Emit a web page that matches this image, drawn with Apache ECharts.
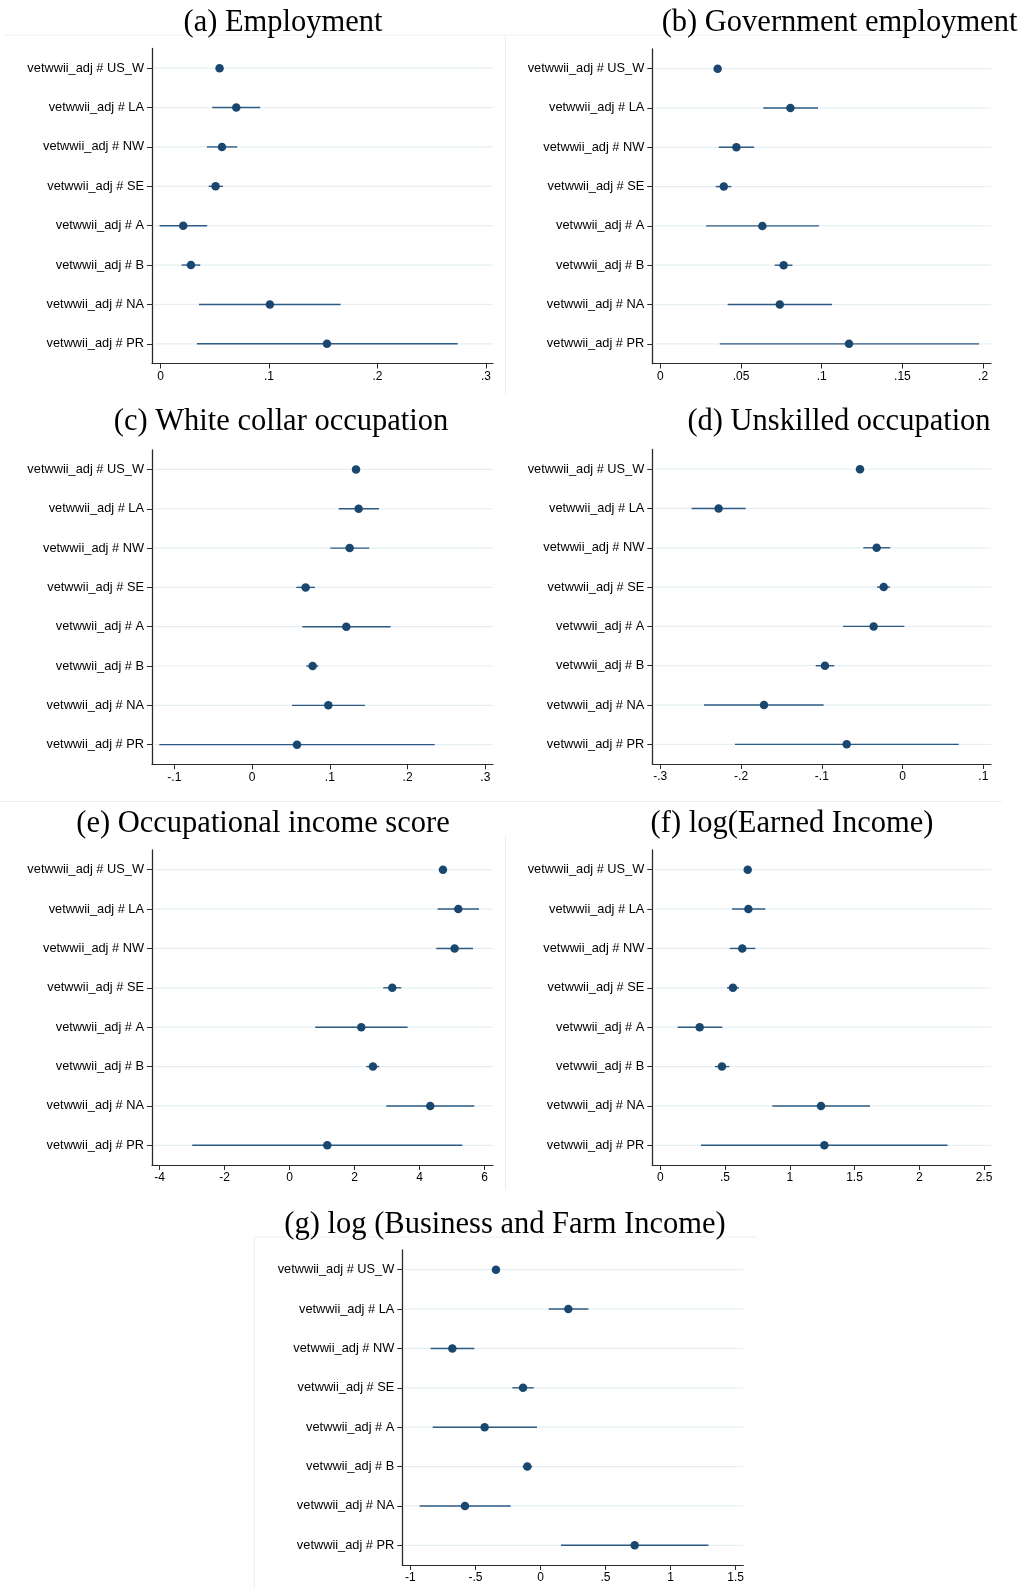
<!DOCTYPE html>
<html>
<head>
<meta charset="utf-8">
<title>vetwwii_adj coefficients by region</title>
<script src="https://cdn.jsdelivr.net/npm/echarts@6/dist/echarts.min.js"></script>
<style>
html, body { margin: 0; padding: 0; background: #fff; }
#main { width: 1026px; height: 1589px; }
</style>
</head>
<body>
<div id="main"></div>
<script>
// categories (top to bottom)
var categories = ['vetwwii_adj # US_W', 'vetwwii_adj # LA', 'vetwwii_adj # NW', 'vetwwii_adj # SE',
                  'vetwwii_adj # A', 'vetwwii_adj # B', 'vetwwii_adj # NA', 'vetwwii_adj # PR'];

// (a) Employment
var empCoef = [0.0544, 0.0698, 0.0566, 0.0507, 0.0209, 0.0280, 0.1008, 0.1534];
var empLo   = [0.0526, 0.0476, 0.0427, 0.0443, -0.0009, 0.0194, 0.0354, 0.0335];
var empHi   = [0.0562, 0.0919, 0.0707, 0.0575, 0.0430, 0.0366, 0.1660, 0.2739];
var empTicks = [0, 0.1, 0.2, 0.3];

// (b) Government employment
var govCoef = [0.0355, 0.0806, 0.0471, 0.0393, 0.0632, 0.0764, 0.0740, 0.1169];
var govLo   = [0.0343, 0.0638, 0.0362, 0.0343, 0.0283, 0.0709, 0.0417, 0.0368];
var govHi   = [0.0367, 0.0977, 0.0581, 0.0440, 0.0983, 0.0818, 0.1064, 0.1975];
var govTicks = [0, 0.05, 0.1, 0.15, 0.2];

// (c) White collar occupation
var wcCoef = [0.1337, 0.1371, 0.1255, 0.0689, 0.1212, 0.0779, 0.0981, 0.0578];
var wcLo   = [0.1317, 0.1114, 0.1007, 0.0569, 0.0646, 0.0698, 0.0514, -0.1193];
var wcHi   = [0.1357, 0.1632, 0.1508, 0.0809, 0.1782, 0.0852, 0.1452, 0.2349];
var wcTicks = [-0.1, 0, 0.1, 0.2, 0.3];

// (d) Unskilled occupation
var unsCoef = [-0.0527, -0.2278, -0.0321, -0.0234, -0.0358, -0.0961, -0.1716, -0.0692];
var unsLo   = [-0.0547, -0.2612, -0.0486, -0.0317, -0.0738, -0.1076, -0.2459, -0.2075];
var unsHi   = [-0.0507, -0.1943, -0.0152, -0.0156, 0.0022, -0.0845, -0.0977, 0.0695];
var unsTicks = [-0.3, -0.2, -0.1, 0, 0.1];

// (e) Occupational income score
var oisCoef = [4.718, 5.190, 5.077, 3.159, 2.205, 2.564, 4.328, 1.159];
var oisLo   = [4.640, 4.554, 4.513, 2.882, 0.790, 2.359, 2.974, -2.995];
var oisHi   = [4.800, 5.826, 5.641, 3.436, 3.631, 2.759, 5.682, 5.313];
var oisTicks = [-4, -2, 0, 2, 4, 6];

// (f) log(Earned Income)
var earnCoef = [0.675, 0.680, 0.633, 0.561, 0.304, 0.476, 1.241, 1.267];
var earnLo   = [0.662, 0.554, 0.536, 0.515, 0.134, 0.422, 0.865, 0.314];
var earnHi   = [0.688, 0.811, 0.734, 0.608, 0.479, 0.533, 1.619, 2.219];
var earnTicks = [0, 0.5, 1, 1.5, 2, 2.5];

// (g) log (Business and Farm Income)
var bizCoef = [-0.342, 0.214, -0.677, -0.134, -0.429, -0.101, -0.580, 0.724];
var bizLo   = [-0.356, 0.063, -0.844, -0.216, -0.828, -0.137, -0.928, 0.158];
var bizHi   = [-0.328, 0.368, -0.508, -0.052, -0.027, -0.063, -0.229, 1.290];
var bizTicks = [-1, -0.5, 0, 0.5, 1, 1.5];

var panels = [
  {title: '(a) Employment', coef: empCoef, lo: empLo, hi: empHi, ticks: empTicks, min: -0.0079, max: 0.3065},
  {title: '(b) Government employment', coef: govCoef, lo: govLo, hi: govHi, ticks: govTicks, min: -0.005, max: 0.2049},
  {title: '(c) White collar occupation', coef: wcCoef, lo: wcLo, hi: wcHi, ticks: wcTicks, min: -0.1287, max: 0.3099},
  {title: '(d) Unskilled occupation', coef: unsCoef, lo: unsLo, hi: unsHi, ticks: unsTicks, min: -0.3099, max: 0.1095},
  {title: '(e) Occupational income score', coef: oisCoef, lo: oisLo, hi: oisHi, ticks: oisTicks, min: -4.234, max: 6.258},
  {title: '(f) log(Earned Income)', coef: earnCoef, lo: earnLo, hi: earnHi, ticks: earnTicks, min: -0.0618, max: 2.554},
  {title: '(g) log (Business and Farm Income)', coef: bizCoef, lo: bizLo, hi: bizHi, ticks: bizTicks, min: -1.0615, max: 1.5584}
];

// plot boxes and title anchors (layout only)
var boxes = [
  {left: 152, top: 48.5, width: 341, height: 315, tx: 283, ty: 23},
  {left: 652.3, top: 49, width: 338.7, height: 314.5, tx: 839.5, ty: 23},
  {left: 152, top: 449.8, width: 341, height: 314.5, tx: 281, ty: 422},
  {left: 652.3, top: 449.5, width: 338.7, height: 314.5, tx: 839, ty: 422},
  {left: 152, top: 850, width: 341, height: 315, tx: 263, ty: 824},
  {left: 652.3, top: 850, width: 338.7, height: 315, tx: 792, ty: 824},
  {left: 402.3, top: 1250, width: 341, height: 315, tx: 505, ty: 1224.5}
];

var dotColor = '#1a476f';
var ciColor = '#2d5b85';
var gridColor = '#e6eff2';
var axisColor = '#2a2a2a';
var sansFont = '"Liberation Sans", Arial, Helvetica, sans-serif';

function fmtTick(v) {
  var s = String(+(+v).toFixed(4));
  return s.replace(/^(-?)0\./, '$1.');
}

function ciRender(params, api) {
  var idx = api.value(2);
  var p1 = api.coord([api.value(0), idx]);
  var p2 = api.coord([api.value(1), idx]);
  var cs = params.coordSys;
  return {
    type: 'group',
    children: [
      {type: 'line', shape: {x1: cs.x + 1, y1: p1[1], x2: cs.x + cs.width, y2: p1[1]},
       style: {stroke: gridColor, lineWidth: 1.2}},
      {type: 'line', shape: {x1: p1[0], y1: p1[1], x2: p2[0], y2: p2[1]},
       style: {stroke: ciColor, lineWidth: 1.4}}
    ]
  };
}

var grids = [], xAxes = [], yAxes = [], series = [], graphics = [];

panels.forEach(function (p, i) {
  var b = boxes[i];
  grids.push({left: b.left, top: b.top, width: b.width, height: b.height, containLabel: false});
  xAxes.push({
    type: 'value', gridIndex: i, min: p.min, max: p.max,
    axisLine: {show: true, onZero: false, lineStyle: {color: axisColor, width: 1.2}},
    axisTick: {show: true, length: 5, customValues: p.ticks, lineStyle: {color: axisColor}},
    axisLabel: {customValues: p.ticks, formatter: fmtTick, margin: 7,
                fontFamily: sansFont, fontSize: 12, color: '#000'},
    splitLine: {show: false}
  });
  yAxes.push({
    type: 'category', gridIndex: i, data: categories, inverse: true,
    axisLine: {show: true, onZero: false, lineStyle: {color: axisColor, width: 1.3}},
    axisTick: {show: true, alignWithLabel: true, length: 5, lineStyle: {color: axisColor}},
    axisLabel: {margin: 8, fontFamily: sansFont, fontSize: 12.8, color: '#000'},
    splitLine: {show: false}
  });
  series.push({
    type: 'custom', xAxisIndex: i, yAxisIndex: i,
    renderItem: ciRender,
    encode: {x: [0, 1], y: 2},
    data: p.lo.map(function (v, k) { return [v, p.hi[k], k]; }),
    z: 2
  });
  series.push({
    type: 'scatter', xAxisIndex: i, yAxisIndex: i,
    symbol: 'circle', symbolSize: 8.5,
    itemStyle: {color: dotColor, opacity: 1},
    data: p.coef.map(function (v, k) { return [v, k]; }),
    z: 3
  });
  graphics.push({
    type: 'text', x: b.tx, y: b.ty,
    style: {text: p.title, font: '30.5px "Liberation Serif", "Times New Roman", serif', fill: '#000',
            align: 'center', verticalAlign: 'middle', textAlign: 'center', textVerticalAlign: 'middle'}
  });
});

// faint graph-region borders
var borderLines = [
  [4, 35, 1002, 35], [505.5, 35, 505.5, 395],
  [0, 801.5, 1002, 801.5], [505.5, 835, 505.5, 1190],
  [254, 1237, 757, 1237], [254.3, 1237, 254.3, 1589]
];
borderLines.forEach(function (l) {
  graphics.push({type: 'line', shape: {x1: l[0], y1: l[1], x2: l[2], y2: l[3]},
                 style: {stroke: '#eef0f0', lineWidth: 1}, z: -1});
});

var myChart = echarts.init(document.getElementById('main'));
myChart.setOption({
  animation: false,
  backgroundColor: '#fff',
  grid: grids,
  xAxis: xAxes,
  yAxis: yAxes,
  series: series,
  graphic: graphics
});
</script>
</body>
</html>
